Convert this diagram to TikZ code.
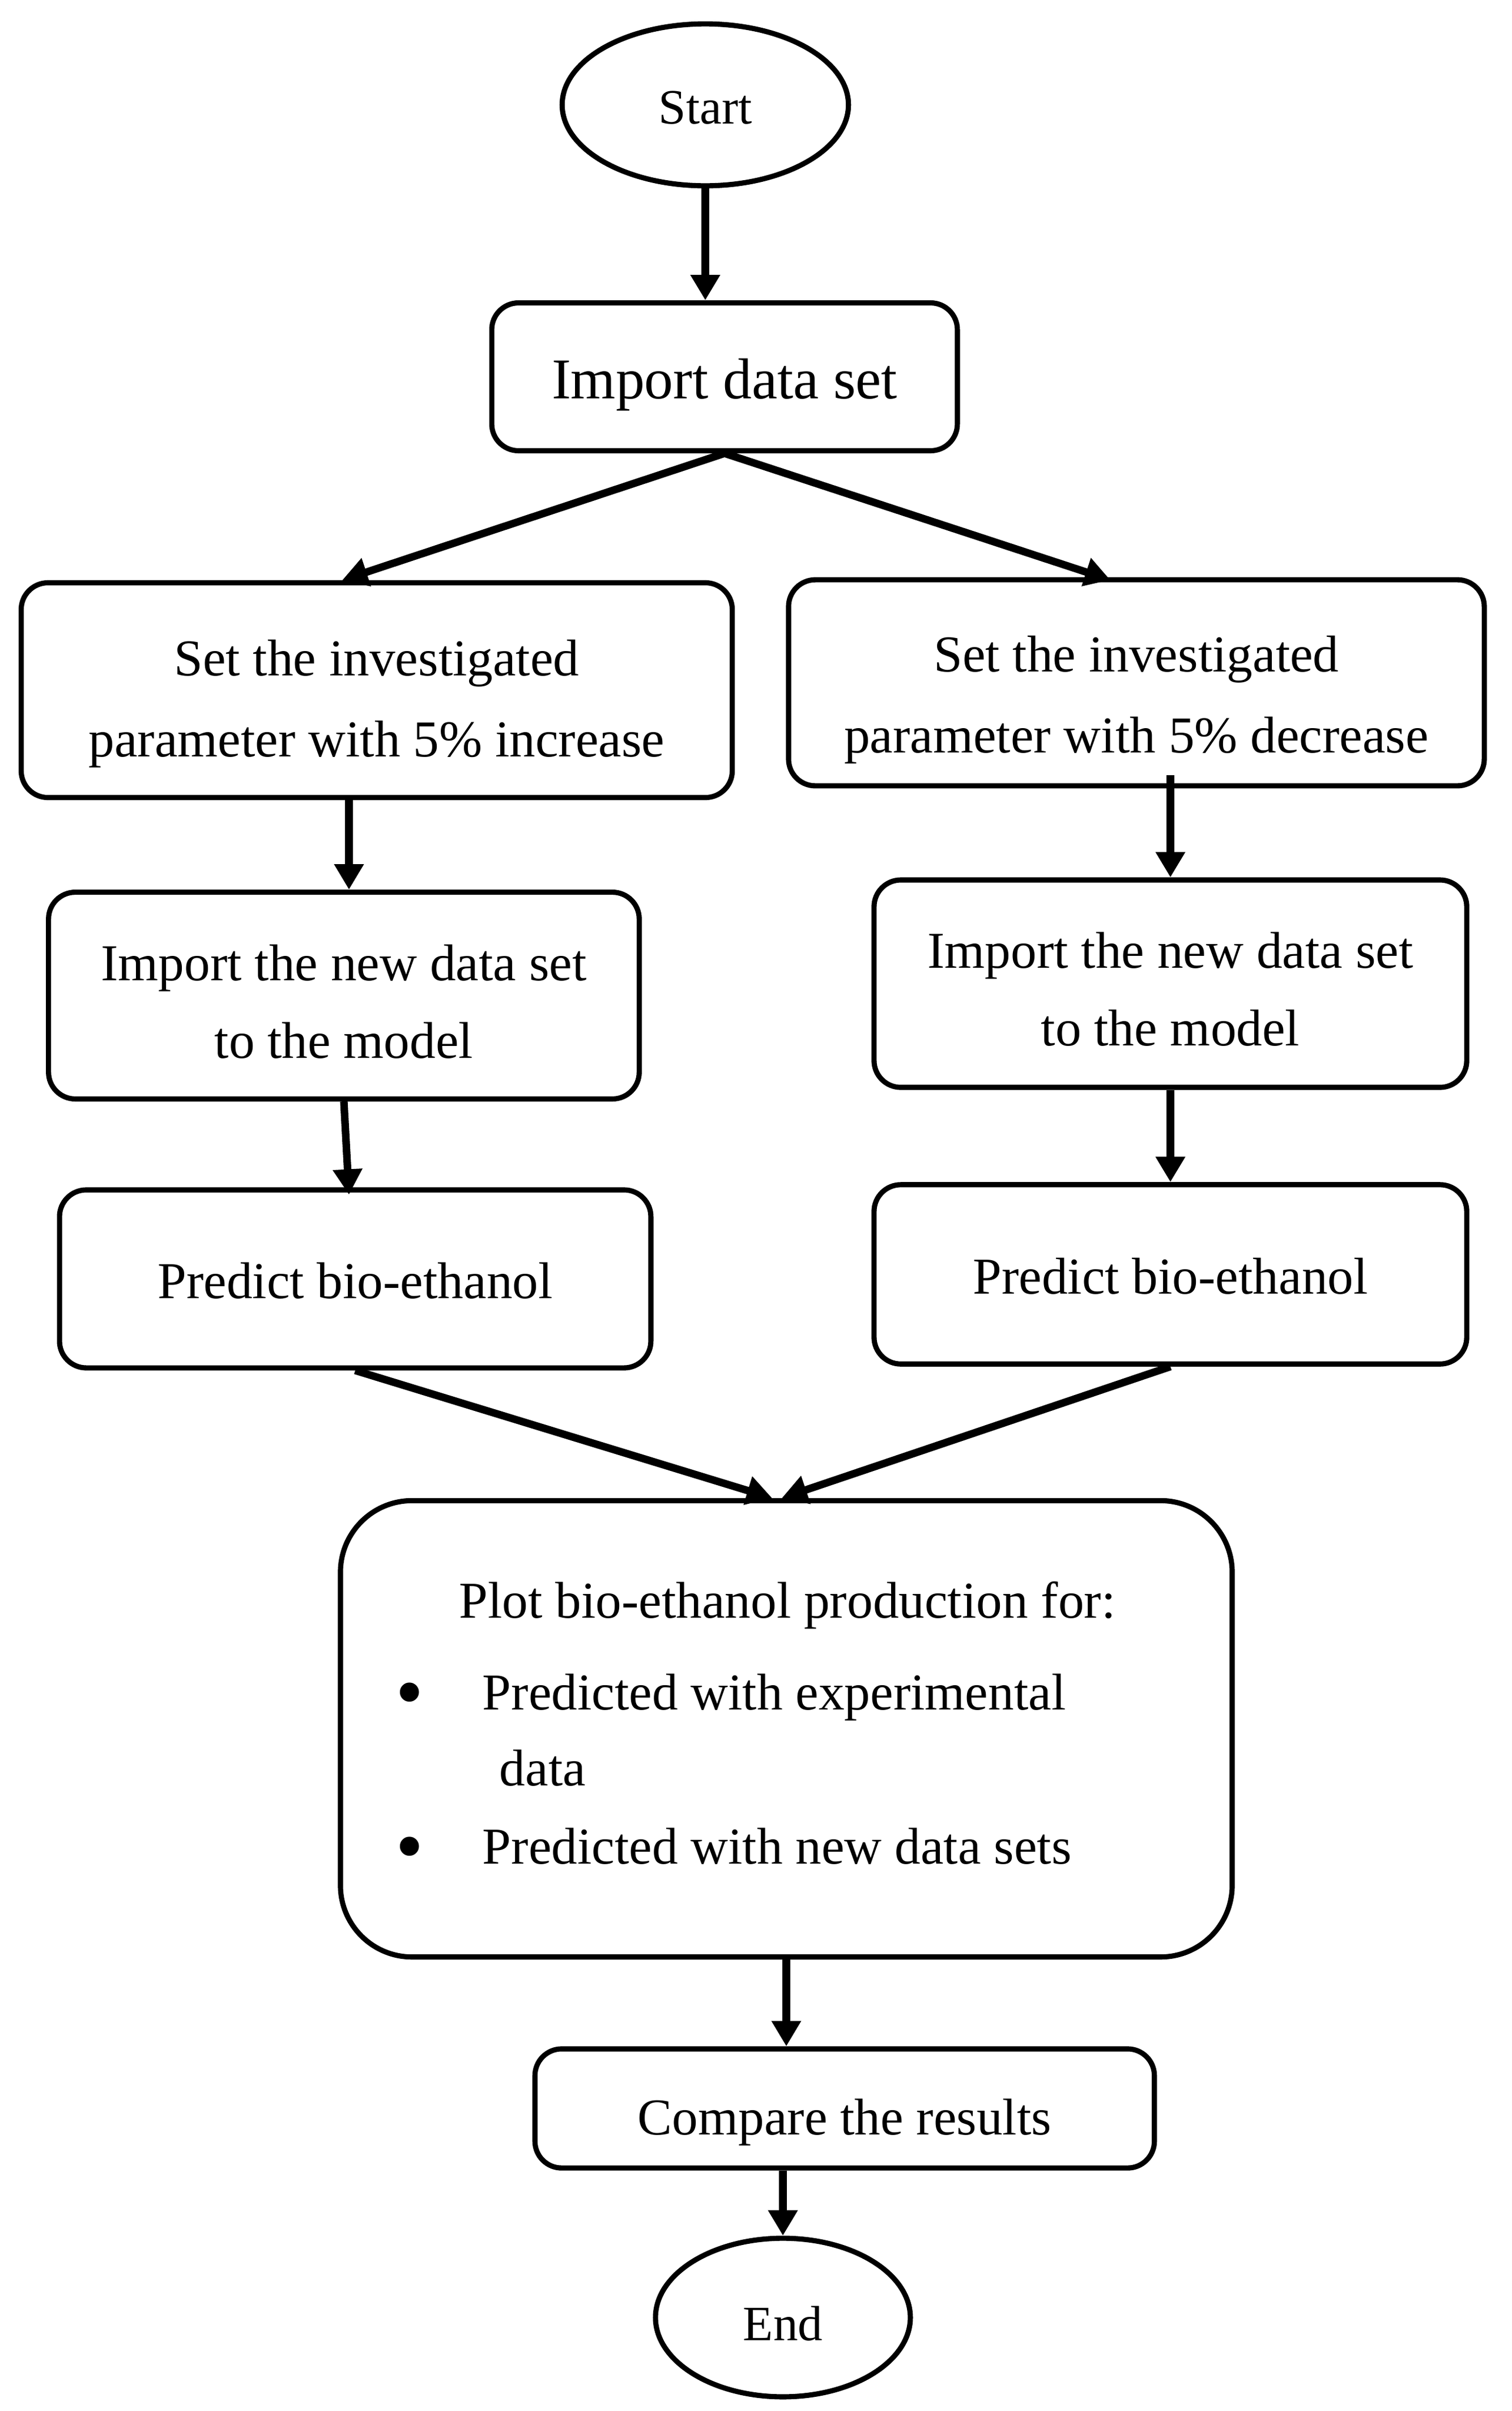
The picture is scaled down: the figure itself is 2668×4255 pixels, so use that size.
\documentclass[tikz,border=0pt]{standalone}
\usepackage{fontspec}
\setmainfont{Liberation Serif}
\usepackage{tikz}
\usetikzlibrary{arrows.meta, calc, shapes.geometric}

\tikzset{
  stepbox/.style={draw, line width=2.2pt, rounded corners=0.4cm},
  termnode/.style={draw, ellipse, line width=2.2pt},
  txt/.style={inner sep=0pt, align=center, font=\fontsize{22}{33}\selectfont},
  flow/.style={line width=3.2pt, -{Triangle[length=0.38cm, width=0.42cm]}},
}

\begin{document}
\begin{tikzpicture}[x=0.008467cm, y=-0.008467cm]

	\useasboundingbox (0,0) rectangle (2668,4255);

	% terminals and steps
	\node[termnode, minimum width=4.28cm, minimum height=2.42cm] (start) at (1245,185) {};
	\node[txt, font=\fontsize{21}{25}\selectfont] (starttext) at ($(start)+(0,5)$) {Start};

	\node[stepbox, minimum width=6.96cm, minimum height=2.21cm] (imp) at (1279,665) {};
	\node[txt, font=\fontsize{24.5}{33}\selectfont] (imptext) at ($(imp)+(0,14)$) {Import data set};

	\node[stepbox, minimum width=10.63cm, minimum height=3.21cm] (inc) at (665,1218) {};
	\node[txt, font=\fontsize{22}{34.5}\selectfont] (inctext) at ($(inc)+(0,24)$) {Set the investigated\\parameter with 5\% increase};
	\node[stepbox, minimum width=10.40cm, minimum height=3.08cm] (dec) at (2006,1205) {};
	\node[txt, font=\fontsize{22}{34.5}\selectfont] (dectext) at ($(dec)+(0,30)$) {Set the investigated\\parameter with 5\% decrease};

	\node[stepbox, minimum width=8.83cm, minimum height=3.09cm] (incmod) at (607,1757) {};
	\node[txt] (incmodtext) at ($(incmod)+(0,11)$) {Import the new data set\\to the model};
	\node[stepbox, minimum width=8.86cm, minimum height=3.10cm] (decmod) at (2066,1736) {};
	\node[txt] (decmodtext) at ($(decmod)+(0,10)$) {Import the new data set\\to the model};

	\node[stepbox, minimum width=8.84cm, minimum height=2.66cm] (incpred) at (627,2257) {};
	\node[txt] (incpredtext) at ($(incpred)+(0,3)$) {Predict bio-ethanol};
	\node[stepbox, minimum width=8.86cm, minimum height=2.68cm] (decpred) at (2066,2249) {};
	\node[txt] (decpredtext) at ($(decpred)+(0,3)$) {Predict bio-ethanol};

	\node[stepbox, rounded corners=1.07cm, minimum width=13.33cm, minimum height=6.82cm] (plot) at (1388,3051) {};
	\node[txt, anchor=base] (plottitle) at (1390,2855) {Plot bio-ethanol production for:};
	\node[txt, font=\fontsize{34}{34}\selectfont] (dot1) at (723,3002) {\textbullet};
	\node[txt, anchor=base west] (item1) at (851,3017) {Predicted with experimental};
	\node[txt, anchor=base west] (item1b) at (881,3151) {data};
	\node[txt, font=\fontsize{34}{34}\selectfont] (dot2) at (723,3274) {\textbullet};
	\node[txt, anchor=base west] (item2) at (851,3289) {Predicted with new data sets};

	\node[stepbox, minimum width=9.26cm, minimum height=1.78cm] (cmp) at (1491,3721) {};
	\node[txt] (cmptext) at ($(cmp)+(0,24)$) {Compare the results};

	\node[termnode, minimum width=3.81cm, minimum height=2.37cm] (stop) at (1382,4090) {};
	\node[txt, font=\fontsize{21}{25}\selectfont] (stoptext) at ($(stop)+(0,11)$) {End};

	% connectors
	\coordinate (a1) at ($(inc.south)+(-49,0)$);
	\coordinate (b1) at ($(dec.south -| decmod.north)+(0,-23)$);

	\draw[flow] (start.south) -- (start.south |- imp.north);
	\draw[flow] (imp.south) -- ($(inc.north)+(-61,0)$);
	\draw[flow] (imp.south) -- ($(dec.north)+(-46,5)$);
	\draw[flow] (a1) -- (a1 |- incmod.north);
	\draw[flow] (b1) -- (decmod.north);
	\draw[flow] (incmod.south) -- ($(incpred.north)+(-11,13)$);
	\draw[flow] (decmod.south) -- (decpred.north);
	\draw[flow] (incpred.south) -- ($(plot.north)+(-25,0)$);
	\draw[flow] (decpred.south) -- ($(plot.north)+(-8,0)$);
	\draw[flow] (plot.south) -- (plot.south |- cmp.north);
	\draw[flow] (cmp.south -| stop.north) -- (stop.north);

\end{tikzpicture}
\end{document}
